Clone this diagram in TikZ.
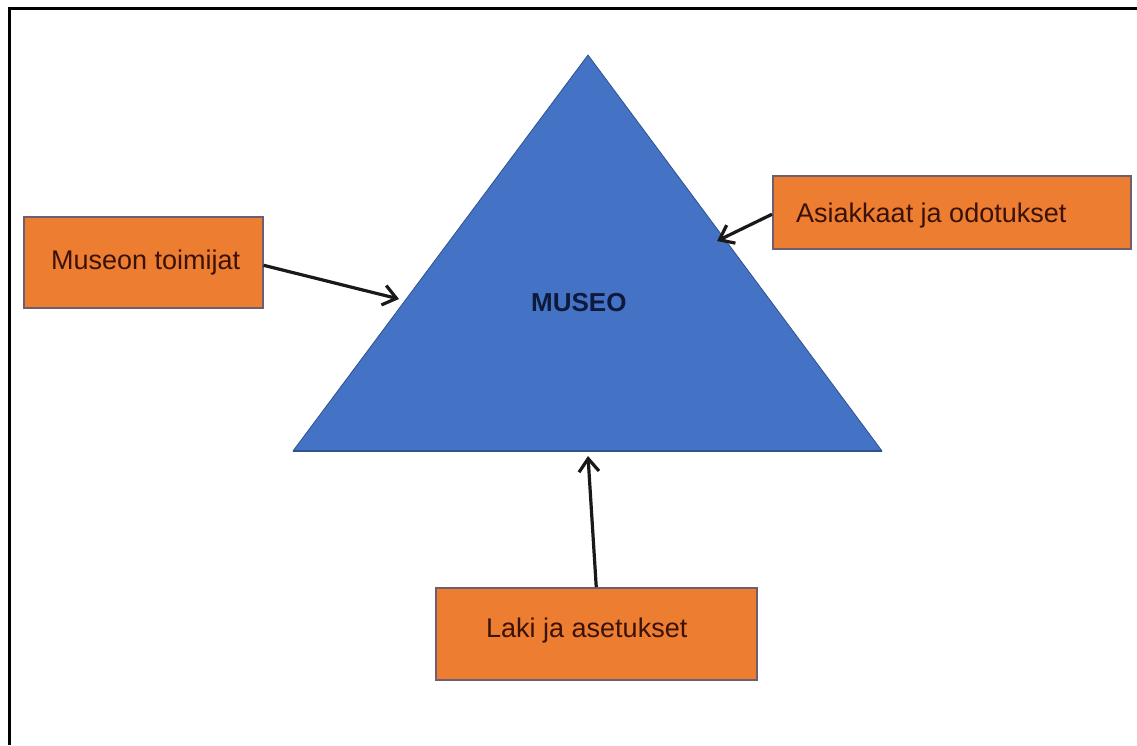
\documentclass[tikz,border=0pt]{standalone}
\usepackage{fontspec}
\setmainfont{Liberation Sans}
\usetikzlibrary{arrows.meta}
\definecolor{tri}{HTML}{4472C4}
\definecolor{triedge}{HTML}{2F528F}
\definecolor{boxfill}{HTML}{ED7D31}
\definecolor{boxedge}{HTML}{6E5E70}
\definecolor{boxtext}{HTML}{3A1208}
\definecolor{museotext}{HTML}{0E1A3C}
\tikzset{
  orangebox/.style={draw=boxedge, line width=1.5pt, fill=boxfill, inner sep=0pt, anchor=north west},
  boxlabel/.style={anchor=base west, inner sep=0pt, text=boxtext, font=\fontsize{27}{30}\selectfont},
  pusharrow/.style={line width=3.2pt, black!90, -{Straight Barb[length=13pt,width=20pt]}},
}
\begin{document}
\begin{tikzpicture}[x=1pt,y=-1pt]
\useasboundingbox (0,0) rectangle (1137,745);
\fill[white] (0,0) rectangle (1137,745);
% frame (top and left only)
\draw[line width=3pt, black] (9.3,745) -- (9.3,8) -- (1137,8);
% triangle
\coordinate (apex) at (588,55);
\coordinate (bl) at (293,451);
\coordinate (br) at (882,451);
\fill[tri] (apex) -- (br) -- (bl) -- cycle;
\draw[triedge, line width=0.8pt, line join=round] (apex) -- (br) -- (bl) -- cycle;
\draw[triedge, line width=2pt] (bl) -- (br);
\node[anchor=base west, inner sep=0pt, text=museotext, font=\fontsize{26}{30}\selectfont\bfseries] (museo) at (531,311) {MUSEO};
% boxes
\node[orangebox, minimum width=239pt, minimum height=91pt] (mt) at (23,216) {};
\node[boxlabel] (mtl) at (51,269) {Museon toimijat};
\node[orangebox, minimum width=358pt, minimum height=73pt] (ao) at (772,175) {};
\node[boxlabel] (aol) at (796,222) {Asiakkaat ja odotukset};
\node[orangebox, minimum width=321pt, minimum height=92pt] (la) at (435,587) {};
\node[boxlabel] (lal) at (486,637) {Laki ja asetukset};
% arrow targets on triangle
\coordinate (t1) at (399,299);
\coordinate (t2) at (717,241);
\coordinate (t3) at (588,456);
% arrows
\draw[pusharrow] ([yshift=-3pt]mt.east) -- (t1);
\draw[pusharrow] ([yshift=-2pt]ao.west) -- (t2);
\draw[pusharrow] (la.north) -- (t3);
\end{tikzpicture}
\end{document}
